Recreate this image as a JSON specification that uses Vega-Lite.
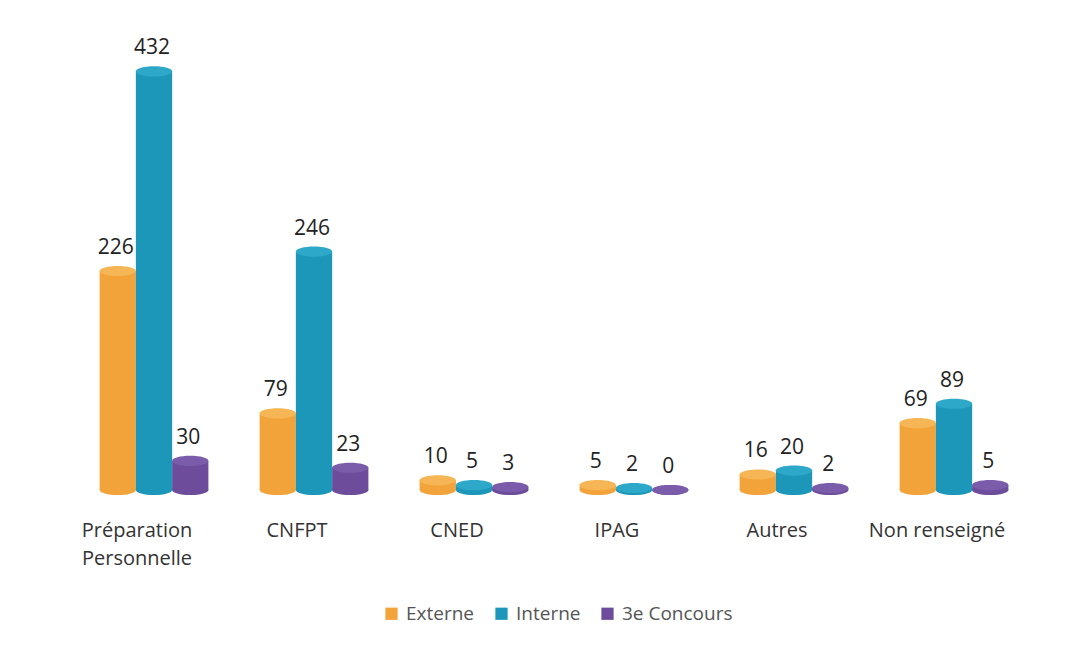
{
  "$schema": "https://vega.github.io/schema/vega-lite/v6.json",
  "width": 960,
  "height": 436,
  "autosize": {"type": "none"},
  "padding": {"left": 74, "top": 54, "right": 54, "bottom": 156},
  "background": "white",
  "config": {"view": {"stroke": null}, "font": "Open Sans"},
  "data": {
    "values": [
      {"categorie": "Préparation Personnelle", "type": "Externe", "valeur": 226},
      {"categorie": "Préparation Personnelle", "type": "Interne", "valeur": 432},
      {"categorie": "Préparation Personnelle", "type": "3e Concours", "valeur": 30},
      {"categorie": "CNFPT", "type": "Externe", "valeur": 79},
      {"categorie": "CNFPT", "type": "Interne", "valeur": 246},
      {"categorie": "CNFPT", "type": "3e Concours", "valeur": 23},
      {"categorie": "CNED", "type": "Externe", "valeur": 10},
      {"categorie": "CNED", "type": "Interne", "valeur": 5},
      {"categorie": "CNED", "type": "3e Concours", "valeur": 3},
      {"categorie": "IPAG", "type": "Externe", "valeur": 5},
      {"categorie": "IPAG", "type": "Interne", "valeur": 2},
      {"categorie": "IPAG", "type": "3e Concours", "valeur": 0},
      {"categorie": "Autres", "type": "Externe", "valeur": 16},
      {"categorie": "Autres", "type": "Interne", "valeur": 20},
      {"categorie": "Autres", "type": "3e Concours", "valeur": 2},
      {"categorie": "Non renseigné", "type": "Externe", "valeur": 69},
      {"categorie": "Non renseigné", "type": "Interne", "valeur": 89},
      {"categorie": "Non renseigné", "type": "3e Concours", "valeur": 5}
    ]
  },
  "encoding": {
    "x": {
      "field": "categorie",
      "type": "nominal",
      "sort": null,
      "scale": {"paddingInner": 0.32, "paddingOuter": 0.16},
      "axis": {
        "title": null,
        "domain": false,
        "ticks": false,
        "labelAngle": 0,
        "labelFont": "Open Sans",
        "labelFontSize": 20,
        "labelColor": "#333333",
        "labelPadding": 30,
        "labelOffset": -17,
        "labelLineHeight": 28,
        "labelBaseline": "top",
        "labelExpr": "datum.value == 'Préparation Personnelle' ? ['Préparation', 'Personnelle'] : datum.label"
      }
    },
    "xOffset": {
      "field": "type",
      "type": "nominal",
      "sort": ["Externe", "Interne", "3e Concours"],
      "scale": {"paddingInner": 0, "paddingOuter": 0}
    }
  },
  "layer": [
    {
      "mark": {"type": "point", "filled": true, "opacity": 1, "strokeWidth": 0, "size": 1320,
               "shape": "M -1 0 A 1 0.28 0 1 1 1 0 A 1 0.28 0 1 1 -1 0 Z"},
      "encoding": {
        "y": {"datum": 0, "type": "quantitative", "scale": {"domain": [0, 450]}, "axis": null},
        "color": {"field": "type", "type": "nominal"}
      }
    },
    {
      "mark": {"type": "bar", "width": {"band": 1}},
      "encoding": {
        "y": {"field": "valeur", "type": "quantitative", "scale": {"domain": [0, 450]}, "axis": null},
        "color": {
          "field": "type",
          "type": "nominal",
          "sort": ["Externe", "Interne", "3e Concours"],
          "scale": {"domain": ["Externe", "Interne", "3e Concours"], "range": ["#F2A33A", "#1C97BA", "#6C4C9B"]},
          "legend": {
            "title": null,
            "orient": "none",
            "legendX": 308,
            "legendY": 550,
            "direction": "horizontal",
            "symbolType": "square",
            "symbolSize": 150,
            "labelFont": "Open Sans",
            "labelFontSize": 19,
            "labelColor": "#555555",
            "columnPadding": 17,
            "labelOffset": 5
          }
        }
      }
    },
    {
      "mark": {"type": "point", "filled": true, "opacity": 1, "strokeWidth": 0, "size": 1320,
               "shape": "M -1 0 A 1 0.28 0 1 1 1 0 A 1 0.28 0 1 1 -1 0 Z"},
      "encoding": {
        "y": {"field": "valeur", "type": "quantitative"},
        "fill": {
          "field": "type",
          "type": "nominal",
          "scale": {"domain": ["Externe", "Interne", "3e Concours"], "range": ["#F7B655", "#2DA8C8", "#7B5CAA"]},
          "legend": null
        }
      }
    },
    {
      "mark": {"type": "text", "fontSize": 21, "color": "#222222", "dy": -23, "dx": -2, "baseline": "middle"},
      "encoding": {
        "y": {"field": "valeur", "type": "quantitative"},
        "text": {"field": "valeur", "type": "quantitative"}
      }
    }
  ]
}
